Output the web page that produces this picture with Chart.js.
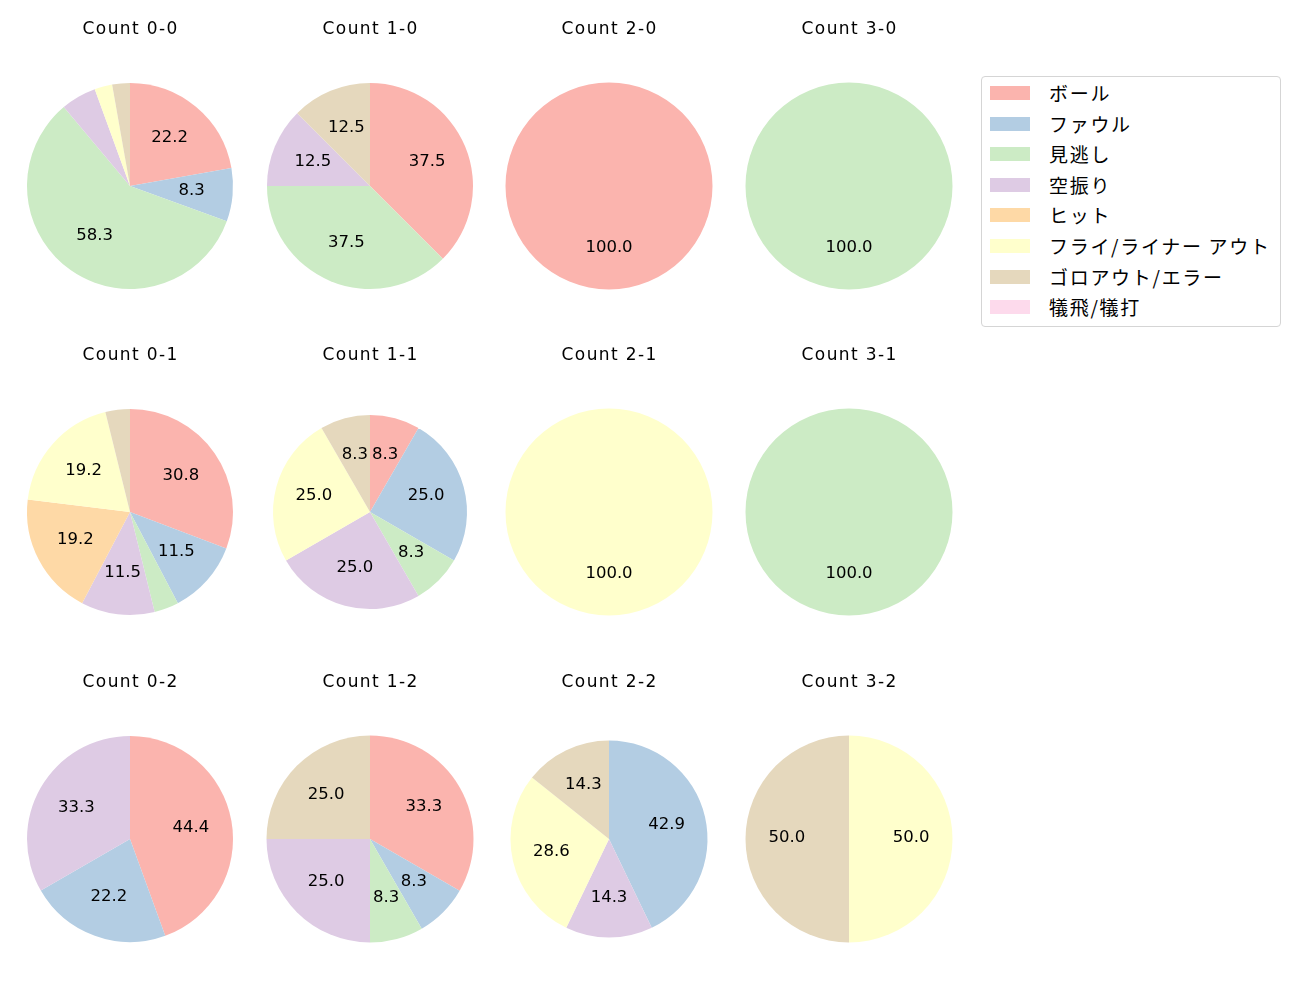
<!DOCTYPE html>
<html>
<head>
<meta charset="utf-8">
<script src="https://cdn.jsdelivr.net/npm/chart.js@4"></script>
<style>
  body { margin: 0; background: #fff; width: 1300px; height: 1000px; position: relative; overflow: hidden;
         font-family: "DejaVu Sans", "Noto Sans CJK JP", sans-serif; }
  .cell { position: absolute; width: 240px; height: 300px; }
  #legend { position: absolute; left: 981px; top: 76px; width: 298px; height: 249px;
            border: 1px solid #d5d5d5; border-radius: 4px; background: #fff; }
  .item { position: absolute; left: 8px; height: 20px; font-size: 19px; color: #000; line-height: 20px;
          font-family: "Noto Sans CJK JP", sans-serif; letter-spacing: 1.7px; }
  .sw { position: absolute; left: 0; top: 3px; width: 40px; height: 14px; }
  .lab { position: absolute; left: 59px; top: 0; white-space: nowrap; }
</style>
</head>
<body>
<div id="legend"></div>
<script>
// categories and colours (Pastel1)
const categories = ['ボール', 'ファウル', '見逃し', '空振り', 'ヒット', 'フライ/ライナー アウト', 'ゴロアウト/エラー', '犠飛/犠打'];
const colors = ['#fbb4ae', '#b3cde3', '#ccebc5', '#decbe4', '#fed9a6', '#ffffcc', '#e5d8bd', '#fddaec'];

// pitch counts per ball-strike count (order follows categories)
const titles = ['Count 0-0', 'Count 1-0', 'Count 2-0', 'Count 3-0',
                'Count 0-1', 'Count 1-1', 'Count 2-1', 'Count 3-1',
                'Count 0-2', 'Count 1-2', 'Count 2-2', 'Count 3-2'];
const count00 = [8, 3, 21, 2, 0, 1, 1, 0];
const count10 = [3, 0, 3, 1, 0, 0, 1, 0];
const count20 = [1, 0, 0, 0, 0, 0, 0, 0];
const count30 = [0, 0, 1, 0, 0, 0, 0, 0];
const count01 = [8, 3, 1, 3, 5, 5, 1, 0];
const count11 = [1, 3, 1, 3, 0, 3, 1, 0];
const count21 = [0, 0, 0, 0, 0, 1, 0, 0];
const count31 = [0, 0, 1, 0, 0, 0, 0, 0];
const count02 = [4, 2, 0, 3, 0, 0, 0, 0];
const count12 = [4, 1, 1, 3, 0, 0, 3, 0];
const count22 = [0, 3, 0, 1, 0, 2, 1, 0];
const count32 = [0, 0, 0, 0, 0, 1, 1, 0];
const allCounts = [count00, count10, count20, count30, count01, count11, count21, count31,
                   count02, count12, count22, count32];

// layout
const colX = [130, 369.5, 609, 849];
const rowY = [185.5, 512, 838.5];
const radius = [103, 103, 103.5, 103.5, 103, 97, 103.5, 103.5, 103, 103.5, 98.5, 103.5];
const FONT = '"DejaVu Sans", sans-serif';

// legend
const legendEl = document.getElementById('legend');
categories.forEach((c, i) => {
  const it = document.createElement('div');
  it.className = 'item';
  it.style.top = (6 + i * 30.6) + 'px';
  it.innerHTML = '<div class="sw" style="background:' + colors[i] + '"></div><div class="lab">' + c + '</div>';
  legendEl.appendChild(it);
});

// draws percentage labels and the title
const pieText = {
  id: 'pieText',
  afterDatasetsDraw(chart, args, opts) {
    const ctx = chart.ctx;
    const data = chart.data.datasets[0].data;
    const total = data.reduce((a, b) => a + b, 0);
    ctx.save();
    ctx.fillStyle = '#000';
    ctx.textAlign = 'center';
    ctx.textBaseline = 'middle';
    ctx.font = '16.5px ' + FONT;
    chart.getDatasetMeta(0).data.forEach((arc, i) => {
      const pct = data[i] / total * 100;
      if (pct < 7) return;
      const p = arc.getProps(['x', 'y', 'startAngle', 'endAngle', 'outerRadius'], true);
      const a = (p.startAngle + p.endAngle) / 2;
      const r = p.outerRadius * 0.6;
      ctx.fillText(pct.toFixed(1), p.x + Math.cos(a) * r, p.y + Math.sin(a) * r - 0.8);
    });
    ctx.font = '17px ' + FONT;
    ctx.letterSpacing = '1.4px';
    ctx.fillText(opts.text, chart.width / 2 + 0.7, 180 - 156);
    ctx.restore();
  }
};

allCounts.forEach((vals, k) => {
  const cx = colX[k % 4], cy = rowY[Math.floor(k / 4)], r = radius[k];
  const div = document.createElement('div');
  div.className = 'cell';
  div.style.left = (cx - 120) + 'px';
  div.style.top = (cy - 180) + 'px';
  const cv = document.createElement('canvas');
  cv.width = 240;
  cv.height = 300;
  div.appendChild(cv);
  document.body.appendChild(div);
  new Chart(cv, {
    type: 'pie',
    data: {
      labels: categories,
      datasets: [{ data: vals, backgroundColor: colors, borderWidth: 0 }]
    },
    options: {
      responsive: false,
      maintainAspectRatio: false,
      animation: false,
      layout: { padding: { left: 120 - r, right: 120 - r, top: 180 - r, bottom: 120 - r } },
      plugins: {
        legend: { display: false },
        tooltip: { enabled: false },
        title: { display: false },
        pieText: { text: titles[k] }
      }
    },
    plugins: [pieText]
  });
});
</script>
</body>
</html>
